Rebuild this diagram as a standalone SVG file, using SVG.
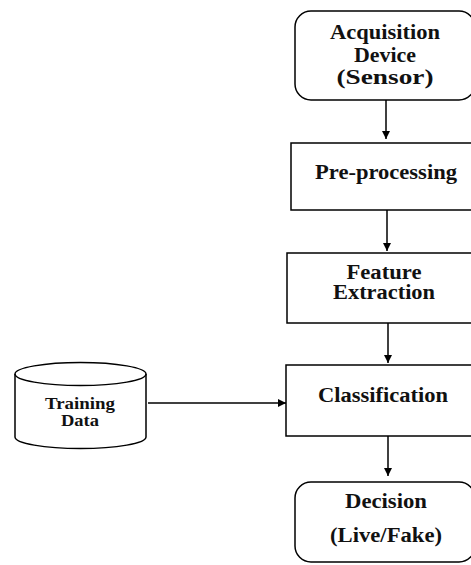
<svg xmlns="http://www.w3.org/2000/svg" width="471" height="565" viewBox="0 0 471 565">
<defs>
<style>
.box{fill:#fff;stroke:#000;stroke-width:1.5}
text{font-family:'Liberation Serif',serif;font-weight:700;font-size:20px;fill:#111;text-anchor:middle}
.s{font-size:16px}
.c{stroke:#000;stroke-width:1.5;fill:none}
</style>
<marker id="ah" viewBox="0 0 10 10" refX="10" refY="5" markerWidth="8" markerHeight="8" markerUnits="userSpaceOnUse" orient="auto">
<path d="M0,0 L10,5 L0,10 z" fill="#000"/>
</marker>
</defs>
<g id="acquisition">
<rect class="box" x="295" y="11" width="180" height="89" rx="16"/>
<text x="385" y="39" textLength="110" lengthAdjust="spacingAndGlyphs">Acquisition</text>
<text x="385" y="62" textLength="62" lengthAdjust="spacingAndGlyphs">Device</text>
<text x="385" y="84" textLength="97" lengthAdjust="spacingAndGlyphs">(Sensor)</text>
</g>
<g id="preprocessing">
<rect class="box" x="291" y="143" width="190" height="67"/>
<text x="386" y="179" textLength="142" lengthAdjust="spacingAndGlyphs">Pre-processing</text>
</g>
<g id="feature">
<rect class="box" x="287" y="253" width="190" height="70"/>
<text x="384" y="279" textLength="75" lengthAdjust="spacingAndGlyphs">Feature</text>
<text x="384" y="299" textLength="102" lengthAdjust="spacingAndGlyphs">Extraction</text>
</g>
<g id="classification">
<rect class="box" x="286" y="365" width="190" height="71"/>
<text x="383" y="402" textLength="130" lengthAdjust="spacingAndGlyphs">Classification</text>
</g>
<g id="decision">
<rect class="box" x="295" y="482" width="180" height="80" rx="16"/>
<text x="386" y="508" textLength="82" lengthAdjust="spacingAndGlyphs">Decision</text>
<text x="386" y="542" textLength="112" lengthAdjust="spacingAndGlyphs">(Live/Fake)</text>
</g>
<g id="training">
<path class="box" d="M15,374 L15,437 A65.5,11.5 0 0 0 146,437 L146,374 A65.5,11.5 0 0 0 15,374 Z"/>
<path class="c" d="M15,374 A65.5,11.5 0 0 0 146,374"/>
<text class="s" x="80" y="409" textLength="70" lengthAdjust="spacingAndGlyphs">Training</text>
<text class="s" x="80" y="426" textLength="38" lengthAdjust="spacingAndGlyphs">Data</text>
</g>
<g id="connectors">
<line class="c" x1="386" y1="100" x2="386" y2="139" marker-end="url(#ah)"/>
<line class="c" x1="387" y1="210" x2="387" y2="251" marker-end="url(#ah)"/>
<line class="c" x1="388" y1="323" x2="388" y2="363" marker-end="url(#ah)"/>
<line class="c" x1="388" y1="436" x2="388" y2="476" marker-end="url(#ah)"/>
<line class="c" x1="148" y1="403" x2="286" y2="403" marker-end="url(#ah)"/>
</g>
</svg>
